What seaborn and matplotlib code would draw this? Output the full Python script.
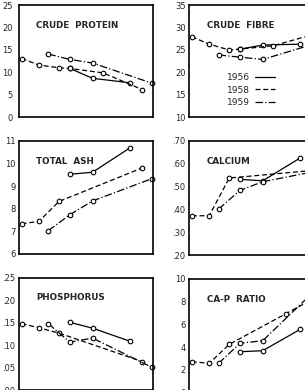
import pandas as pd
import matplotlib
matplotlib.use("Agg")
import matplotlib.pyplot as plt
from matplotlib.lines import Line2D
import seaborn as sns

# Años y posiciones de muestreo (eje x sin escala)
years = ["1956", "1958", "1959"]
x_1956 = [38, 55, 83]
x_1958_a = [2, 15, 30, 38, 63, 92]
x_1958_b = [2, 15, 30, 92]
x_1958_c = [2, 15, 30, 72, 92]
x_1959 = [22, 38, 55, 99.5]

# Valores
protein_1956 = [10.9, 8.7, 7.7]
protein_1958 = [13.1, 11.65, 11.05, 10.9, 9.9, 6.2]
protein_1959 = [14.1, 12.9, 12.1, 7.6]

fibre_1956 = [25.2, 26.1, 26.3]
fibre_1958 = [27.95, 26.3, 25.0, 25.2, 25.95, 28.4]
fibre_1959 = [23.9, 23.4, 22.9, 26.9]

ash_1956 = [9.52, 9.61, 10.69]
ash_1958 = [7.33, 7.44, 8.32, 9.8]
ash_1959 = [7.03, 7.73, 8.34, 9.33]

calcium_1956 = [0.531, 0.525, 0.625]
calcium_1958 = [0.372, 0.372, 0.537, 0.57]
calcium_1959 = [0.401, 0.483, 0.521, 0.572]

phos_1956 = [0.151, 0.138, 0.109]
phos_1958 = [0.148, 0.139, 0.127, 0.064]
phos_1959 = [0.148, 0.107, 0.116, 0.051]

ratio_1956 = [3.6, 3.69, 5.57]
ratio_1958 = [2.73, 2.58, 4.25, 6.92, 8.2]
ratio_1959 = [2.58, 4.34, 4.57, 9.6]

# Etiquetas de los ejes y
protein_ticks = ["0", "5", "10", "15", "20", "25"]
fibre_ticks = ["10", "15", "20", "25", "30", "35"]
ash_ticks = ["6", "7", "8", "9", "10", "11"]
calcium_ticks = [".20", ".30", ".40", ".50", ".60", ".70"]
phos_ticks = [".00", ".05", ".10", ".15", ".20", ".25"]
ratio_ticks = ["0", "2", "4", "6", "8", "10"]

sns.set_style("white")
plt.rcParams["font.family"] = ["DejaVu Sans"]

paneles = [
    ("CRUDE  PROTEIN", (0, 25), [0, 5, 10, 15, 20, 25], protein_ticks,
     [(x_1956, protein_1956), (x_1958_a, protein_1958), (x_1959, protein_1959)]),
    ("CRUDE  FIBRE", (10, 35), [10, 15, 20, 25, 30, 35], fibre_ticks,
     [(x_1956, fibre_1956), (x_1958_a, fibre_1958), (x_1959, fibre_1959)]),
    ("TOTAL  ASH", (6, 11), [6, 7, 8, 9, 10, 11], ash_ticks,
     [(x_1956, ash_1956), (x_1958_b, ash_1958), (x_1959, ash_1959)]),
    ("CALCIUM", (0.2, 0.7), [0.2, 0.3, 0.4, 0.5, 0.6, 0.7], calcium_ticks,
     [(x_1956, calcium_1956), (x_1958_b, calcium_1958), (x_1959, calcium_1959)]),
    ("PHOSPHORUS", (0, 0.25), [0, 0.05, 0.1, 0.15, 0.2, 0.25], phos_ticks,
     [(x_1956, phos_1956), (x_1958_b, phos_1958), (x_1959, phos_1959)]),
    ("CA-P  RATIO", (0, 10), [0, 2, 4, 6, 8, 10], ratio_ticks,
     [(x_1956, ratio_1956), (x_1958_c, ratio_1958), (x_1959, ratio_1959)]),
]

# Posiciones de los ejes (la columna derecha sale del lienzo, como en el original)
posiciones = [
    [0.062, 0.699, 0.439, 0.288], [0.620, 0.699, 0.439, 0.288],
    [0.062, 0.349, 0.439, 0.290], [0.620, 0.346, 0.439, 0.293],
    [0.062, -0.001, 0.439, 0.289], [0.620, -0.007, 0.439, 0.292],
]

estilos = {"1956": "", "1958": (4, 2.2), "1959": (6, 1.8, 1, 1.8)}
marcadores = {"1956": "o", "1958": "o", "1959": "o"}

fig = plt.figure(figsize=(3.05, 3.90), dpi=100)

for i, (titulo, ylim, ticks, etiquetas, series) in enumerate(paneles):
    ax = fig.add_axes(posiciones[i])
    filas = []
    for year, (xs, ys) in zip(years, series):
        for xv, yv in zip(xs, ys):
            filas.append({"pos": xv, "val": yv, "year": year})
    df = pd.DataFrame(filas)
    sns.lineplot(data=df, x="pos", y="val", style="year", dashes=estilos,
                 markers=marcadores, color="black", linewidth=0.9,
                 markersize=3.3, markerfacecolor="white", markeredgecolor="black",
                 markeredgewidth=0.8, estimator=None, legend=False,
                 clip_on=False, ax=ax)
    ax.set_xlim(0, 100)
    ax.set_ylim(*ylim)
    ax.set_xticks([])
    ax.set_yticks(ticks)
    ax.set_yticklabels(etiquetas)
    ax.tick_params(axis="y", length=0, pad=4.5 if i == 0 else 2.5, labelsize=6)
    ax.set_xlabel("")
    ax.set_ylabel("")
    for s in ax.spines.values():
        s.set_color("black")
        s.set_linewidth(1.2)
    ax.text(0.13, 0.82, titulo, transform=ax.transAxes, fontsize=6.3,
            fontweight="bold", va="center", ha="left")

    if i == 1:
        handles = [Line2D([], [], color="black", lw=0.9),
                   Line2D([], [], color="black", lw=0.9, dashes=estilos["1958"]),
                   Line2D([], [], color="black", lw=0.9, dashes=estilos["1959"])]
        ax.legend(handles, years, loc="upper left", bbox_to_anchor=(0.22, 0.47),
                  frameon=False, markerfirst=False, fontsize=6.6,
                  handlelength=2.2, handletextpad=0.5, labelspacing=0.4)

plt.savefig("out.png", dpi=100)
